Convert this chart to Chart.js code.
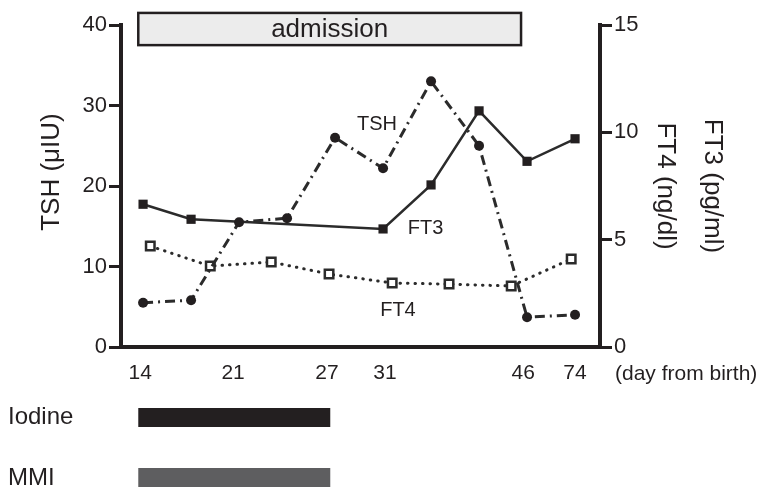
<!DOCTYPE html>
<html>
<head>
<meta charset="utf-8">
<script src="https://cdn.jsdelivr.net/npm/chart.js@4"></script>
<style>
  html, body { margin: 0; padding: 0; background: #fff; }
  #wrap { width: 766px; height: 491px; }
</style>
</head>
<body>
<div id="wrap"><canvas id="thyroidChart" width="766" height="491"></canvas></div>
<script>
const ink = '#231f20';
const fontFamily = '"Liberation Sans", Arial, Helvetica, sans-serif';

// sample slots on the x axis (TSH / FT3 are measured on the same days)
const samplePos = [0, 1, 2, 3, 4, 5, 6, 7, 8, 9];
const tshValues = [5.5, 5.8, 15.5, 16, 26, 22.2, 33, 25, 3.7, 4.0]; // µIU
const ft3Values = [6.65, 5.95, null, null, null, 5.5, 7.55, 11.0, 8.65, 9.7]; // pg/ml
// FT4 was drawn a bit off the other samples
const ft4Pos = [0.15, 1.4, 2.67, 3.875, 5.19, 6.375, 7.67, 8.92];
const ft4Values = [4.7, 3.77, 3.96, 3.4, 2.98, 2.93, 2.84, 4.1]; // ng/dl

// day labels under the x axis
const dayTickPos = [-0.06, 1.875, 3.83, 5.04, 7.92, 9.0];
const dayLabels = ['14', '21', '27', '31', '46', '74'];

// admission period (x slots) and band height (TSH units)
const admissionRange = [-0.1, 7.875];
const admissionBand = [37.5, 41.5];

// treatment bars
const therapyNames = ['Iodine', 'MMI'];
const therapyStart = [-0.1, -0.1];
const therapyEnd = [3.9, 3.9];
const therapyColors = ['#231f20', '#5e5e60'];

// inline series labels
const noteText = ['TSH', 'FT3', 'FT4'];
const notePos = [4.875, 5.885, 5.31];
const noteVal = [27.7, 5.54, 1.72];
const noteAxis = ['y', 'y1', 'y1'];

function toPoints(xs, ys) {
    return xs.map((x, i) => ({ x: x, y: ys[i] }));
}

const overlay = {
    id: 'overlay',
    afterDraw(chart) {
        const ctx = chart.ctx;
        const x = chart.scales.x;
        const y = chart.scales.y;
        const area = chart.chartArea;
        ctx.save();

        // admission box
        const ax0 = x.getPixelForValue(admissionRange[0]);
        const ax1 = x.getPixelForValue(admissionRange[1]);
        const ay0 = y.getPixelForValue(admissionBand[1]);
        const ay1 = y.getPixelForValue(admissionBand[0]);
        ctx.fillStyle = '#ececec';
        ctx.fillRect(ax0, ay0, ax1 - ax0, ay1 - ay0);
        ctx.lineWidth = 2.5;
        ctx.strokeStyle = ink;
        ctx.strokeRect(ax0, ay0, ax1 - ax0, ay1 - ay0);
        ctx.fillStyle = ink;
        ctx.font = '26px ' + fontFamily;
        ctx.textAlign = 'center';
        ctx.textBaseline = 'middle';
        ctx.fillText('admission', (ax0 + ax1) / 2, (ay0 + ay1) / 2 + 1);

        // left axis title (sits a little above the middle)
        ctx.save();
        ctx.translate(52, (area.top + area.bottom) / 2 - 14);
        ctx.rotate(-Math.PI / 2);
        ctx.font = '26px ' + fontFamily;
        ctx.fillText('TSH (μIU)', 0, 0);
        ctx.restore();

        // labels next to the lines
        ctx.font = '20px ' + fontFamily;
        noteText.forEach((t, i) => {
            const sc = chart.scales[noteAxis[i]];
            ctx.fillText(t, x.getPixelForValue(notePos[i]), sc.getPixelForValue(noteVal[i]));
        });

        // x axis caption
        ctx.font = '21px ' + fontFamily;
        ctx.textAlign = 'left';
        ctx.fillText('(day from birth)', area.right + 15, area.bottom + 27);

        // treatment bars below the chart
        therapyNames.forEach((name, i) => {
            const top = area.bottom + 61 + i * 60;
            const bx0 = x.getPixelForValue(therapyStart[i]);
            const bx1 = x.getPixelForValue(therapyEnd[i]);
            ctx.fillStyle = therapyColors[i];
            ctx.fillRect(bx0, top, bx1 - bx0, 19);
            ctx.fillStyle = ink;
            ctx.font = '24px ' + fontFamily;
            ctx.fillText(name, 8, top + 9 + i);
        });
        ctx.restore();
    }
};

const ctx = document.getElementById('thyroidChart').getContext('2d');
const chart = new Chart(ctx, {
    type: 'line',
    data: {
        datasets: [{
            label: 'TSH',
            data: toPoints(samplePos, tshValues),
            yAxisID: 'y',
            borderColor: '#2b2b2b',
            backgroundColor: ink,
            borderWidth: 3,
            borderDash: [10, 5, 2, 5],
            pointStyle: 'circle',
            pointRadius: 5,
            pointBorderWidth: 0,
            pointBackgroundColor: ink
        },
        {
            label: 'FT3',
            data: toPoints(samplePos, ft3Values),
            yAxisID: 'y1',
            spanGaps: true,
            borderColor: '#2b2b2b',
            backgroundColor: ink,
            borderWidth: 2.5,
            pointStyle: 'rect',
            pointRadius: 6.5,
            pointBorderWidth: 0,
            pointBackgroundColor: ink
        },
        {
            label: 'FT4',
            data: toPoints(ft4Pos, ft4Values),
            yAxisID: 'y1',
            borderColor: '#2b2b2b',
            borderWidth: 3,
            borderDash: [0.5, 7],
            borderCapStyle: 'round',
            pointStyle: 'rect',
            pointRadius: 6,
            pointBorderWidth: 2.5,
            pointBorderColor: '#2b2b2b',
            pointBackgroundColor: '#fff'
        }]
    },
    options: {
        responsive: false,
        animation: false,
        clip: false,
        layout: {
            padding: { top: 25, bottom: 104, left: 0, right: 0 }
        },
        plugins: {
            legend: { display: false },
            tooltip: { enabled: false }
        },
        scales: {
            x: {
                type: 'linear',
                min: -0.46,
                max: 9.52,
                grid: { display: false, drawTicks: false },
                border: { display: true, width: 4, color: ink },
                afterBuildTicks: (scale) => {
                    scale.ticks = dayTickPos.map(v => ({ value: v }));
                },
                afterFit: (scale) => { scale.height = 40; },
                ticks: {
                    autoSkip: false,
                    maxRotation: 0,
                    padding: 14,
                    color: ink,
                    font: { size: 21, family: fontFamily },
                    callback: (value, index) => dayLabels[index]
                }
            },
            y: {
                position: 'left',
                min: 0,
                max: 40,
                afterFit: (scale) => { scale.width = 121; },
                grid: { drawOnChartArea: false, drawTicks: true, tickLength: 12, lineWidth: 3, color: ink },
                border: { display: true, width: 4, color: ink },
                ticks: {
                    stepSize: 10,
                    padding: 2,
                    color: ink,
                    font: { size: 22, family: fontFamily }
                }
            },
            y1: {
                position: 'right',
                min: 0,
                max: 15,
                afterFit: (scale) => { scale.width = 166; },
                grid: { drawOnChartArea: false, drawTicks: true, tickLength: 12, lineWidth: 3, color: ink },
                border: { display: true, width: 4, color: ink },
                ticks: {
                    stepSize: 5,
                    padding: 2,
                    color: ink,
                    font: { size: 22, family: fontFamily }
                },
                title: {
                    display: true,
                    text: ['FT3 (pg/ml)', 'FT4 (ng/dl)'],
                    color: ink,
                    padding: { top: 30, bottom: 0 },
                    font: { size: 26, family: fontFamily, lineHeight: '47px' }
                }
            }
        }
    },
    plugins: [overlay]
});
</script>
</body>
</html>
